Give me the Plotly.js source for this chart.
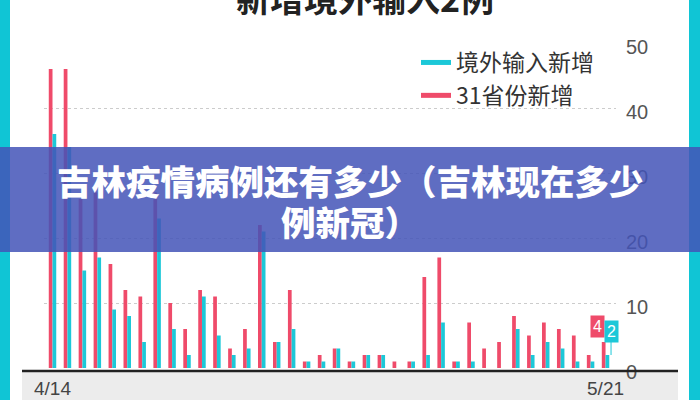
<!DOCTYPE html>
<html>
<head>
<meta charset="utf-8">
<script src="https://cdn.plot.ly/plotly-3.0.1.min.js"></script>
<style>html,body{margin:0;padding:0;background:#fff;}#chart{width:700px;height:400px;}</style>
</head>
<body>
<div id="chart"></div>
<script>
// ---- data ----
const dates = ['4/14','4/15','4/16','4/17','4/18','4/19','4/20','4/21','4/22','4/23','4/24','4/25','4/26','4/27','4/28','4/29','4/30',
  '5/1','5/2','5/3','5/4','5/5','5/6','5/7','5/8','5/9','5/10','5/11','5/12','5/13','5/14','5/15','5/16','5/17','5/18','5/19','5/20','5/21'];
const provinceNew = [46,46,26,27,16,12,11,27,10,6,12,11,3,6,22,4,12,1,2,3,1,2,2,1,1,14,17,1,7,3,4,8,5,7,6,5,2,4];
const importedNew = [36,34,15,17,9,8,4,23,6,2,11,5,2,3,21,4,6,1,1,3,1,2,2,0,1,2,7,1,1,0,0,6,2,4,3,1,1,2];
const xTickLabels = ['4/14','5/21'];
const yTicks = [0,10,20,30,40,50];
const seriesNames = ['境外输入新增','31省份新增'];
const chartTitle = '新增境外输入2例';
const bannerLines = ['吉林疫情病例还有多少（吉林现在多少','例新冠）'];

// ---- layout geometry ----
const W=700,H=400,L=44,R=84,T=43,B=32;
const pw=W-L-R, ph=H-T-B;
const fx = px => (px-L)/pw;
const fy = py => (H-B-py)/ph;

const RED='#ef4b6a', CYAN='#1cc8d8';
const FONT='Liberation Sans, Noto Sans CJK SC, sans-serif';
const CJK='Noto Sans CJK SC, sans-serif';
const last = dates.length-1;

const traces = [
  {type:'bar', x:dates, y:provinceNew, marker:{color:RED}, showlegend:false, hoverinfo:'skip'},
  {type:'bar', x:dates, y:importedNew, marker:{color:CYAN}, showlegend:false, hoverinfo:'skip'},
  {type:'scatter', mode:'lines', x:[dates[0]], y:[null], name:seriesNames[0], line:{color:CYAN,width:5}, legendrank:1},
  {type:'scatter', mode:'lines', x:[dates[0]], y:[null], name:seriesNames[1], line:{color:RED,width:5}, legendrank:2}
];

const layout = {
  width:W, height:H,
  margin:{l:L,r:R,t:T,b:B,pad:0},
  paper_bgcolor:'#ffffff', plot_bgcolor:'#ffffff',
  font:{family:FONT, color:'#444'},
  barmode:'group', bargap:0.5, bargroupgap:0,
  title:{text:chartTitle, font:{size:34, color:'#222', family:CJK, weight:'bold'},
         x:365/W, xanchor:'center', xref:'container', y:1, yanchor:'middle', yref:'container'},
  xaxis:{type:'category', range:[-0.569, 37.70], tickvals:xTickLabels, ticktext:xTickLabels,
         showgrid:false, zeroline:false, showline:false, ticks:'outside', ticklen:3, tickcolor:'rgba(0,0,0,0)',
         tickfont:{size:19, color:'#444', family:FONT}, fixedrange:true},
  yaxis:{side:'right', range:[0,50], tickvals:yTicks, showgrid:true, gridcolor:'#cccccc', griddash:'dot', gridwidth:1,
         zeroline:false, showline:false, ticks:'outside', ticklen:5, tickcolor:'rgba(0,0,0,0)', ticklabelshift:4,
         tickfont:{size:20, color:'#555', family:FONT}, fixedrange:true},
  legend:{x:fx(416), y:fy(41), xanchor:'left', yanchor:'top', bgcolor:'rgba(0,0,0,0)',
          font:{size:23, color:'#333', family:CJK}, itemwidth:30, tracegroupgap:0},
  shapes:[
    {type:'rect', xref:'paper', yref:'paper', x0:fx(22), x1:fx(678), y0:fy(372), y1:fy(400), fillcolor:'#ececec', line:{width:0}, layer:'below'},
    {type:'line', xref:'paper', yref:'paper', x0:fx(22), x1:fx(678), y0:fy(371), y1:fy(371), line:{color:'#222', width:2.5}, layer:'above'},
    {type:'rect', xref:'paper', yref:'paper', x0:fx(0), x1:fx(10), y0:fy(400), y1:fy(0), fillcolor:'#10c5d5', line:{width:0}, layer:'above'},
    {type:'rect', xref:'paper', yref:'paper', x0:fx(689), x1:fx(700), y0:fy(400), y1:fy(0), fillcolor:'#10c5d5', line:{width:0}, layer:'above'},
    {type:'rect', xref:'paper', yref:'paper', x0:fx(0), x1:fx(700), y0:fy(252), y1:fy(147), fillcolor:'rgba(67,83,183,0.85)', line:{width:0}, layer:'above'}
  ],
  annotations:[
    {xref:'paper', yref:'paper', x:fx(350), y:fy(180), xanchor:'center', yanchor:'middle', showarrow:false,
     text:bannerLines[0], font:{size:34.5, color:'#ffffff', family:CJK, weight:900}},
    {xref:'paper', yref:'paper', x:fx(350), y:fy(221), xanchor:'center', yanchor:'middle', showarrow:false,
     text:bannerLines[1], font:{size:34.5, color:'#ffffff', family:CJK, weight:900}},
    {x:dates[last], y:provinceNew[last], xref:'x', yref:'y', showarrow:false, text:String(provinceNew[last]),
     xshift:-8.5, yshift:16, bgcolor:RED, borderpad:2, font:{size:16, color:'#fff', family:FONT}},
    {x:dates[last], y:importedNew[last], xref:'x', yref:'y', showarrow:true, arrowhead:0, arrowwidth:1, arrowcolor:CYAN,
     ax:0, ay:-24, text:String(importedNew[last]), xshift:5.5, bgcolor:CYAN, borderpad:2, font:{size:16, color:'#fff', family:FONT}}
  ]
};

Plotly.newPlot('chart', traces, layout, {staticPlot:true, displayModeBar:false});
</script>
</body>
</html>
